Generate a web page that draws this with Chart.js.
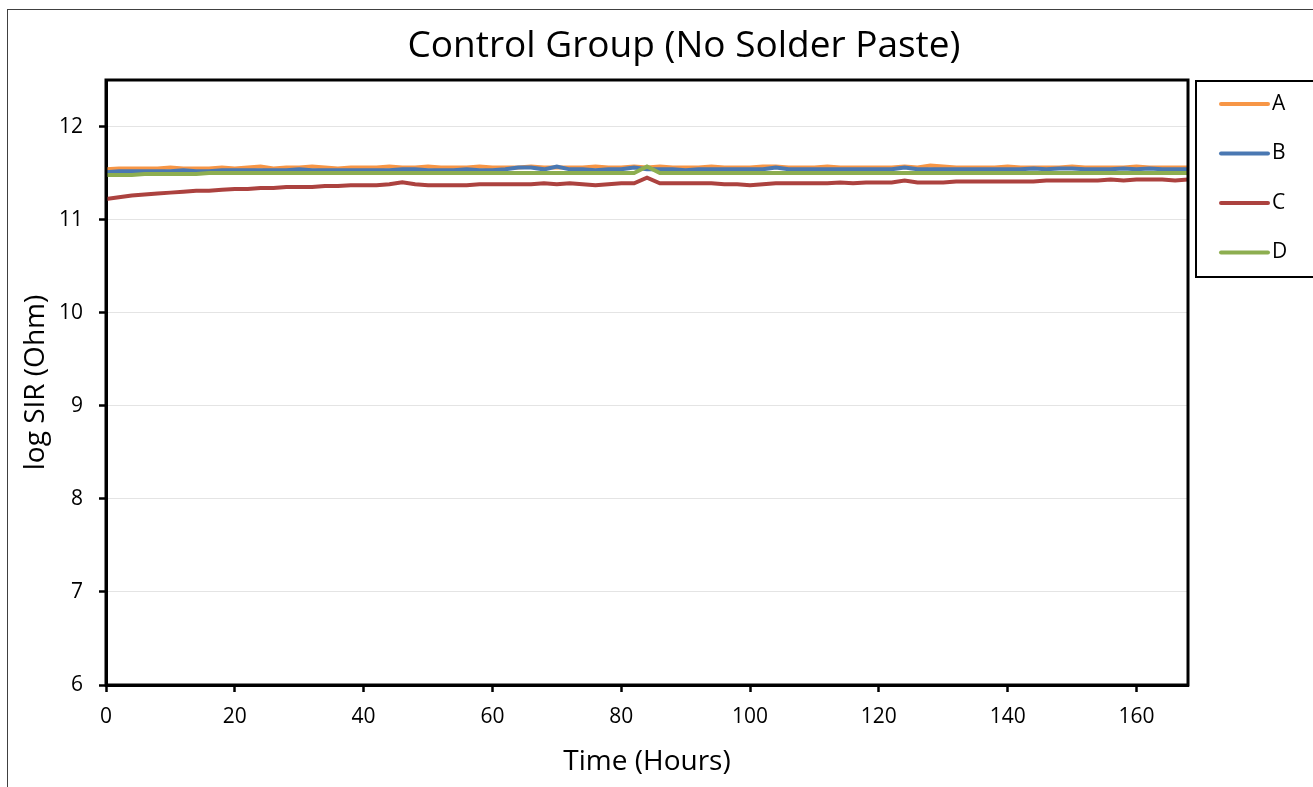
<!DOCTYPE html>
<html>
<head>
<meta charset="utf-8">
<script src="https://cdn.jsdelivr.net/npm/chart.js@4.4.1/dist/chart.umd.min.js"></script>
<style>
  html, body { margin: 0; padding: 0; background: #fff; }
  #wrap { width: 1313px; height: 787px; }
</style>
</head>
<body>
<div id="wrap"><canvas id="sir"></canvas></div>
<script>
const chartTitle = 'Control Group (No Solder Paste)';
const xTitle = 'Time (Hours)';
const yTitle = 'log SIR (Ohm)';
const seriesNames = ['A', 'B', 'C', 'D'];
const seriesColors = ['#F79646', '#4A78B2', '#AC423F', '#8DAE50'];

// time in hours (every 2 h)
const hours = [
  0, 2, 4, 6, 8, 10, 12, 14, 16, 18,
  20, 22, 24, 26, 28, 30, 32, 34, 36, 38,
  40, 42, 44, 46, 48, 50, 52, 54, 56, 58,
  60, 62, 64, 66, 68, 70, 72, 74, 76, 78,
  80, 82, 84, 86, 88, 90, 92, 94, 96, 98,
  100, 102, 104, 106, 108, 110, 112, 114, 116, 118,
  120, 122, 124, 126, 128, 130, 132, 134, 136, 138,
  140, 142, 144, 146, 148, 150, 152, 154, 156, 158,
  160, 162, 164, 166, 168
];

const sirA = [
  11.54, 11.55, 11.55, 11.55, 11.55, 11.56, 11.55, 11.55, 11.55, 11.56,
  11.55, 11.56, 11.57, 11.55, 11.56, 11.56, 11.57, 11.56, 11.55, 11.56,
  11.56, 11.56, 11.57, 11.56, 11.56, 11.57, 11.56, 11.56, 11.56, 11.57,
  11.56, 11.56, 11.56, 11.57, 11.56, 11.56, 11.56, 11.56, 11.57, 11.56,
  11.56, 11.57, 11.56, 11.57, 11.56, 11.56, 11.56, 11.57, 11.56, 11.56,
  11.56, 11.57, 11.57, 11.56, 11.56, 11.56, 11.57, 11.56, 11.56, 11.56,
  11.56, 11.56, 11.57, 11.56, 11.58, 11.57, 11.56, 11.56, 11.56, 11.56,
  11.57, 11.56, 11.56, 11.56, 11.56, 11.57, 11.56, 11.56, 11.56, 11.56,
  11.57, 11.56, 11.56, 11.56, 11.56
];

const sirB = [
  11.51, 11.52, 11.52, 11.52, 11.52, 11.52, 11.53, 11.52, 11.52, 11.53,
  11.53, 11.53, 11.53, 11.53, 11.53, 11.54, 11.53, 11.53, 11.53, 11.53,
  11.53, 11.53, 11.53, 11.54, 11.54, 11.53, 11.53, 11.53, 11.54, 11.53,
  11.53, 11.54, 11.56, 11.56, 11.54, 11.57, 11.54, 11.54, 11.53, 11.54,
  11.54, 11.56, 11.54, 11.54, 11.54, 11.53, 11.54, 11.54, 11.54, 11.54,
  11.54, 11.54, 11.56, 11.54, 11.54, 11.54, 11.54, 11.54, 11.54, 11.54,
  11.54, 11.54, 11.56, 11.54, 11.54, 11.54, 11.54, 11.54, 11.54, 11.54,
  11.54, 11.54, 11.55, 11.54, 11.55, 11.55, 11.54, 11.54, 11.54, 11.55,
  11.54, 11.55, 11.54, 11.54, 11.54
];

const sirC = [
  11.22, 11.24, 11.26, 11.27, 11.28, 11.29, 11.30, 11.31, 11.31, 11.32,
  11.33, 11.33, 11.34, 11.34, 11.35, 11.35, 11.35, 11.36, 11.36, 11.37,
  11.37, 11.37, 11.38, 11.40, 11.38, 11.37, 11.37, 11.37, 11.37, 11.38,
  11.38, 11.38, 11.38, 11.38, 11.39, 11.38, 11.39, 11.38, 11.37, 11.38,
  11.39, 11.39, 11.45, 11.39, 11.39, 11.39, 11.39, 11.39, 11.38, 11.38,
  11.37, 11.38, 11.39, 11.39, 11.39, 11.39, 11.39, 11.40, 11.39, 11.40,
  11.40, 11.40, 11.42, 11.40, 11.40, 11.40, 11.41, 11.41, 11.41, 11.41,
  11.41, 11.41, 11.41, 11.42, 11.42, 11.42, 11.42, 11.42, 11.43, 11.42,
  11.43, 11.43, 11.43, 11.42, 11.43
];

const sirD = [
  11.48, 11.48, 11.48, 11.49, 11.49, 11.49, 11.49, 11.49, 11.50, 11.50,
  11.50, 11.50, 11.50, 11.50, 11.50, 11.50, 11.50, 11.50, 11.50, 11.50,
  11.50, 11.50, 11.50, 11.50, 11.50, 11.50, 11.50, 11.50, 11.50, 11.50,
  11.50, 11.50, 11.50, 11.50, 11.50, 11.50, 11.50, 11.50, 11.50, 11.50,
  11.50, 11.50, 11.57, 11.50, 11.50, 11.50, 11.50, 11.50, 11.50, 11.50,
  11.50, 11.50, 11.50, 11.50, 11.50, 11.50, 11.50, 11.50, 11.50, 11.50,
  11.50, 11.50, 11.50, 11.50, 11.50, 11.50, 11.50, 11.50, 11.50, 11.50,
  11.50, 11.50, 11.50, 11.50, 11.50, 11.50, 11.50, 11.50, 11.50, 11.50,
  11.50, 11.50, 11.50, 11.50, 11.50
];

const allSeries = [sirA, sirB, sirC, sirD];

const FONT = '"Open Sans", "DejaVu Sans", sans-serif';

// frame, title, plot border and legend box (Excel look)
const excelDecor = {
  id: 'excelDecor',
  beforeDraw(chart) {
    const ctx = chart.ctx;
    ctx.save();
    ctx.fillStyle = '#fff';
    ctx.fillRect(0, 0, chart.width, chart.height);
    ctx.strokeStyle = '#404040';
    ctx.lineWidth = 1;
    ctx.strokeRect(7.5, 9.5, chart.width + 10, chart.height + 10);
    ctx.fillStyle = '#000';
    ctx.font = '37px ' + FONT;
    ctx.textAlign = 'center';
    ctx.textBaseline = 'middle';
    ctx.fillText(chartTitle, 684, 46);
    ctx.restore();
  },
  afterDraw(chart) {
    const ctx = chart.ctx;
    const a = chart.chartArea;
    ctx.save();
    ctx.strokeStyle = '#000';
    ctx.lineWidth = 3;
    ctx.strokeRect(a.left, a.top, a.right - a.left, a.bottom - a.top);

    // legend
    ctx.lineWidth = 2;
    ctx.strokeRect(1196, 81, 118, 196);
    ctx.font = '21px ' + FONT;
    ctx.textAlign = 'left';
    ctx.textBaseline = 'middle';
    chart.data.datasets.forEach((ds, i) => {
      const y = 104 + i * 49.5;
      ctx.strokeStyle = ds.borderColor;
      ctx.lineWidth = 4;
      ctx.lineCap = 'round';
      ctx.beginPath();
      ctx.moveTo(1221, y);
      ctx.lineTo(1268, y);
      ctx.stroke();
      ctx.fillStyle = '#000';
      ctx.fillText(ds.label, 1272, y);
    });
    ctx.restore();
  }
};

const datasets = seriesNames.map((name, i) => ({
  label: name,
  data: hours.map((h, j) => ({ x: h, y: allSeries[i][j] })),
  borderColor: seriesColors[i],
  backgroundColor: seriesColors[i],
  borderWidth: 4,
  pointRadius: 0,
  tension: 0,
  order: 4 - i // later series drawn on top, like Excel
}));

new Chart(document.getElementById('sir'), {
  type: 'line',
  data: { datasets: datasets },
  options: {
    responsive: true,
    maintainAspectRatio: false,
    animation: false,
    layout: { padding: { top: 80, right: 125, left: 0, bottom: 0 } },
    plugins: {
      legend: { display: false },
      title: { display: false },
      tooltip: { enabled: false }
    },
    scales: {
      x: {
        type: 'linear',
        min: 0,
        max: 168,
        afterFit(scale) { scale.height = 102; },
        ticks: {
          stepSize: 20,
          includeBounds: false,
          autoSkip: false,
          maxRotation: 0,
          padding: 12,
          color: '#000',
          font: { family: FONT, size: 21 }
        },
        grid: {
          drawOnChartArea: false,
          drawTicks: true,
          tickLength: 7,
          tickColor: '#000',
          tickWidth: 2.5
        },
        border: { display: true, color: '#000', width: 3 },
        title: {
          display: true,
          text: xTitle,
          color: '#000',
          font: { family: FONT, size: 28 },
          padding: { top: 0, bottom: 8 }
        }
      },
      y: {
        min: 6,
        max: 12.5,
        afterFit(scale) { scale.width = 106; },
        ticks: {
          stepSize: 1,
          includeBounds: false,
          autoSkip: false,
          padding: 16,
          color: '#000',
          font: { family: FONT, size: 21 }
        },
        grid: {
          color: '#e4e4e4',
          lineWidth: 1,
          drawTicks: true,
          tickLength: 7,
          tickColor: '#000',
          tickWidth: 2.5
        },
        border: { display: true, color: '#000', width: 3 },
        title: {
          display: true,
          text: yTitle,
          color: '#000',
          font: { family: FONT, size: 28 },
          padding: { top: 19, bottom: 0 }
        }
      }
    }
  },
  plugins: [excelDecor]
});
</script>
</body>
</html>
